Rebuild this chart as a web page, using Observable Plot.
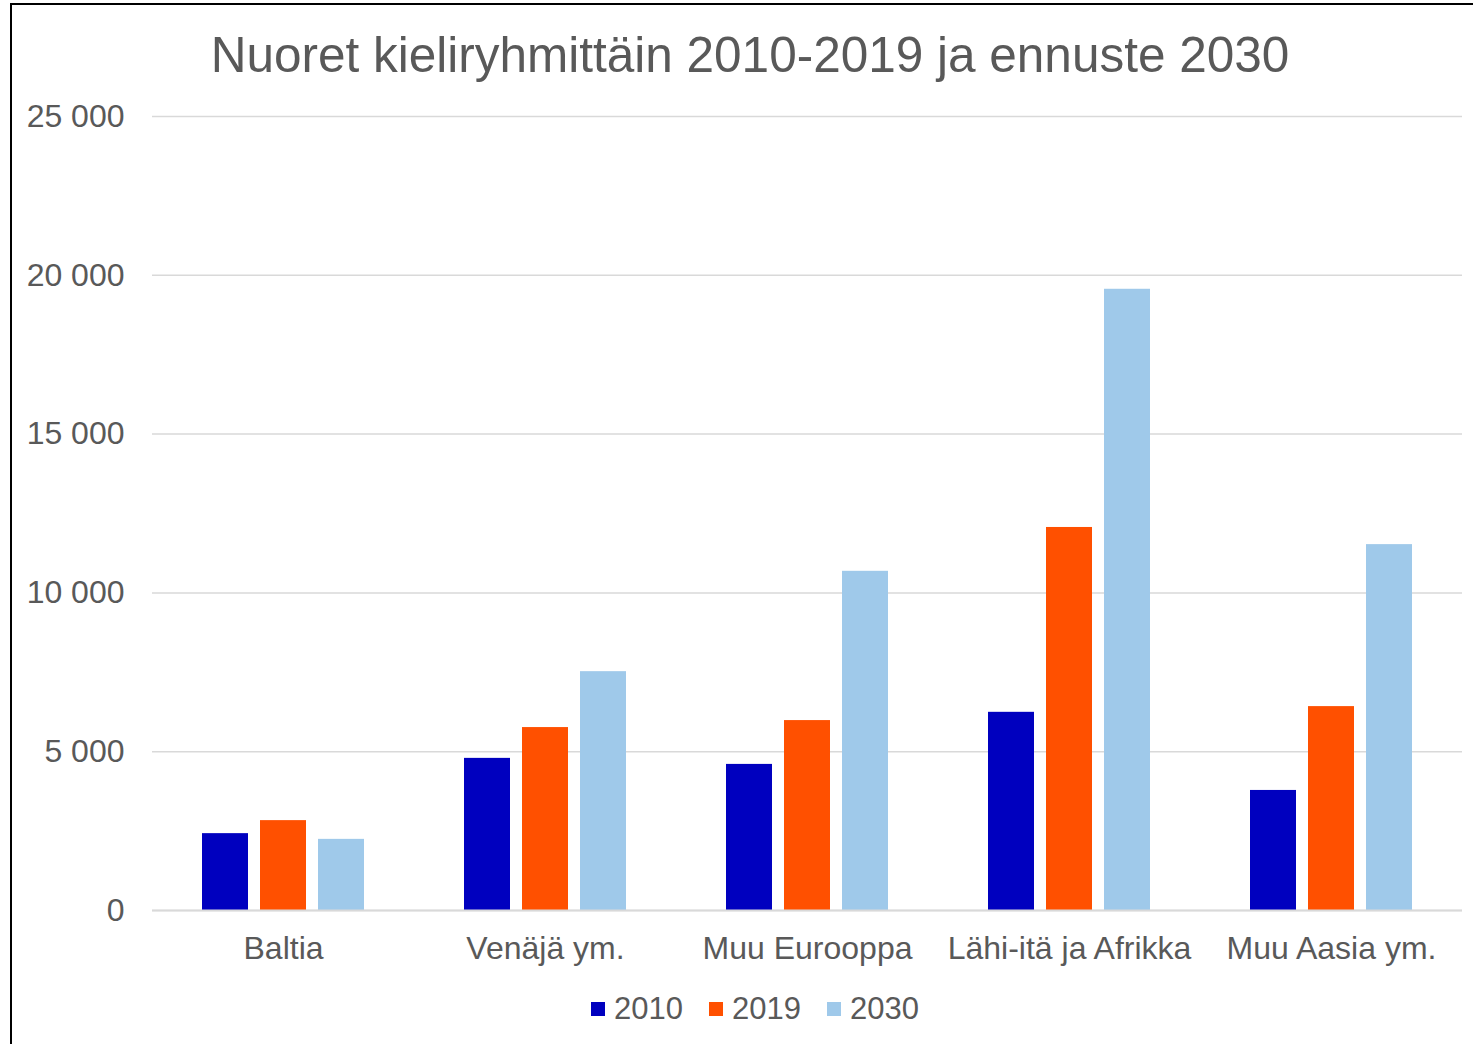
<!DOCTYPE html>
<html>
<head>
<meta charset="utf-8">
<script src="https://cdn.jsdelivr.net/npm/d3@7"></script>
<script src="https://cdn.jsdelivr.net/npm/@observablehq/plot@0.6"></script>
<style>
  html, body { margin: 0; padding: 0; background: #fff; width: 1473px; height: 1044px; overflow: hidden; position: relative; }
  body { font-family: "Liberation Sans", Arial, sans-serif; color: #595959; }
  #frame { position: absolute; left: 10px; top: 3px; width: 1500px; height: 1100px; border: 2px solid #000; box-sizing: border-box; }
  #title { position: absolute; left: 0; width: 1500px; top: 30px; text-align: center; font-size: 49.5px; line-height: 50px; color: #595959; white-space: nowrap; }
  #chart { position: absolute; left: 0; top: 90px; }
  #legend { position: absolute; left: 591px; top: 993px; display: flex; align-items: center; font-size: 31px; line-height: 31px; color: #595959; }
  .item { display: flex; align-items: center; margin-right: 26px; }
  .sw { width: 14px; height: 14px; margin-right: 9px; }
</style>
</head>
<body>
<div id="frame"></div>
<div id="title">Nuoret kieliryhmittäin 2010-2019 ja ennuste 2030</div>
<div id="chart"></div>
<div id="legend"></div>
<script>
const categories = ["Baltia", "Venäjä ym.", "Muu Eurooppa", "Lähi-itä ja Afrikka", "Muu Aasia ym."];
const years = ["2010", "2019", "2030"];
const values2010 = [2420, 4790, 4600, 6240, 3780];
const values2019 = [2830, 5760, 5980, 12060, 6420];
const values2030 = [2240, 7520, 10680, 19560, 11520];
const yTicks = [0, 5000, 10000, 15000, 20000, 25000];
const colors = ["#0000BF", "#FF5000", "#9FC9EA"];

const series = [values2010, values2019, values2030];
const data = [];
categories.forEach((c, i) => {
  years.forEach((y, j) => data.push({category: c, year: y, value: series[j][i]}));
});

const fmt = d => d3.format(",")(d).replace(/,/g, " ");

const chart = Plot.plot({
  width: 1473,
  height: 880,
  marginLeft: 152,
  marginRight: 11,
  marginTop: 26,
  marginBottom: 60,
  style: {fontFamily: "'Liberation Sans', Arial, sans-serif", fontSize: "32px", color: "#595959", background: "transparent"},
  fx: {domain: categories, padding: 0, label: null, tickSize: 0, tickPadding: 26, axis: "bottom"},
  x: {domain: years, paddingInner: 0.207, paddingOuter: 0.862, axis: null},
  y: {domain: [0, 25000], ticks: yTicks, tickFormat: fmt, tickSize: 0, tickPadding: 28, label: null},
  color: {domain: years, range: colors},
  marks: [
    Plot.gridY(yTicks, {stroke: "#d9d9d9", strokeOpacity: 1, strokeWidth: 1.5}),
    Plot.barY(data, {fx: "category", x: "year", y: "value", fill: "year"}),
    Plot.ruleY([0], {stroke: "#d9d9d9", strokeWidth: 2})
  ]
});
document.getElementById("chart").appendChild(chart);

const legend = document.getElementById("legend");
years.forEach((y, j) => {
  const item = document.createElement("div");
  item.className = "item";
  const sw = document.createElement("div");
  sw.className = "sw";
  sw.style.background = colors[j];
  const t = document.createElement("span");
  t.textContent = y;
  item.appendChild(sw);
  item.appendChild(t);
  legend.appendChild(item);
});
</script>
</body>
</html>
